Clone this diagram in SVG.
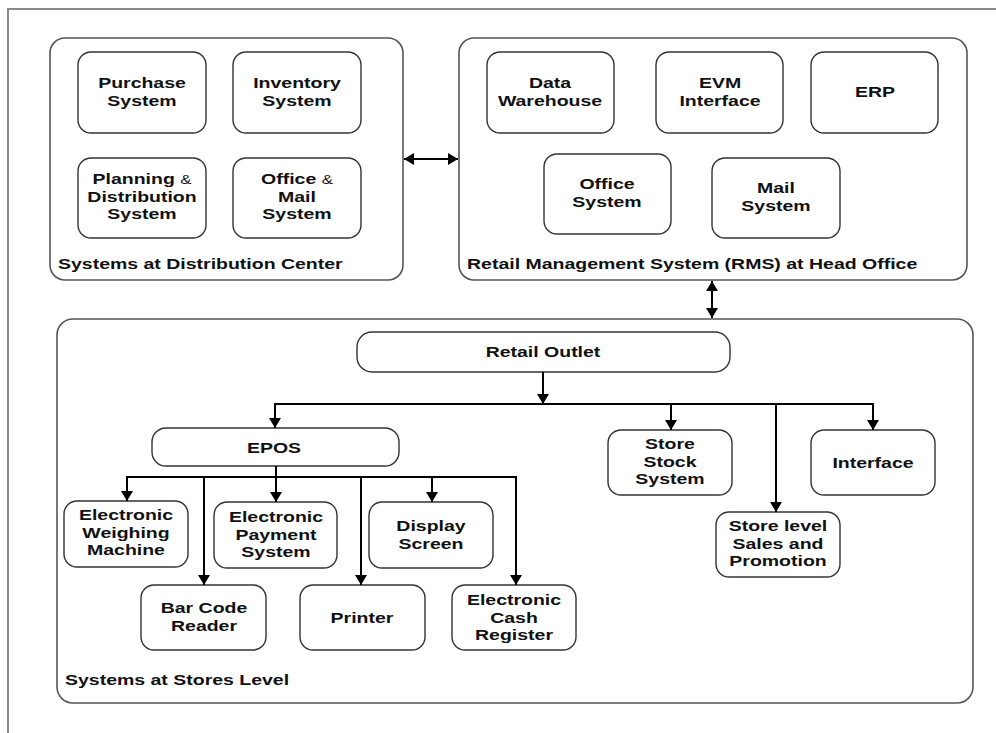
<svg xmlns="http://www.w3.org/2000/svg" width="996" height="733" viewBox="0 0 996 733">
  <style>
    .frame { fill: none; stroke: #8a8a8a; stroke-width: 2; }
    .group { fill: #fff; stroke: #555; stroke-width: 1.6; }
    .box { fill: #fff; stroke: #333; stroke-width: 1.4; }
    .wire { fill: none; stroke: #000; stroke-width: 2; }
    text { font-family: "Liberation Sans", Arial, sans-serif; font-weight: bold; font-size: 15px; fill: #111; }
    .c { text-anchor: middle; }
    .amp { font-weight: normal; font-size: 13px; }
  </style>
  <defs>
    <marker id="head" viewBox="0 0 10 12" markerUnits="userSpaceOnUse" markerWidth="10" markerHeight="12" refX="10" refY="6" orient="auto-start-reverse">
      <path d="M0,0 L10,6 L0,12 z" fill="#000"/>
    </marker>
  </defs>

  <rect width="996" height="733" fill="#fff"/>
  <!-- page frame (open on the right and bottom) -->
  <path class="frame" d="M8,733 V9 H996"/>

  <!-- distribution center -->
  <g id="distribution-center">
    <rect class="group" x="50" y="38" width="353" height="242" rx="15"/>
    <text transform="translate(58,268.5) scale(1.3,1)">Systems at Distribution Center</text>
  </g>
  <g id="purchase-system">
    <rect class="box" x="78" y="52" width="128" height="81" rx="13"/>
    <text class="c" transform="translate(142,0) scale(1.3,1)"><tspan x="0" y="88.5">Purchase</tspan><tspan x="0" y="106">System</tspan></text>
  </g>
  <g id="inventory-system">
    <rect class="box" x="233" y="52" width="128" height="81" rx="13"/>
    <text class="c" transform="translate(297,0) scale(1.3,1)"><tspan x="0" y="88.5">Inventory</tspan><tspan x="0" y="106">System</tspan></text>
  </g>
  <g id="planning-distribution">
    <rect class="box" x="78" y="158" width="128" height="80" rx="13"/>
    <text class="c" transform="translate(142,0) scale(1.3,1)"><tspan x="0" y="184.5">Planning <tspan class="amp">&amp;</tspan></tspan><tspan x="0" y="202">Distribution</tspan><tspan x="0" y="219.5">System</tspan></text>
  </g>
  <g id="office-mail-system">
    <rect class="box" x="233" y="158" width="128" height="80" rx="13"/>
    <text class="c" transform="translate(297,0) scale(1.3,1)"><tspan x="0" y="184.5">Office <tspan class="amp">&amp;</tspan></tspan><tspan x="0" y="202">Mail</tspan><tspan x="0" y="219.5">System</tspan></text>
  </g>

  <!-- head office RMS -->
  <g id="rms-head-office">
    <rect class="group" x="459" y="38" width="508" height="242" rx="15"/>
    <text transform="translate(467,268.5) scale(1.3,1)">Retail Management System (RMS) at Head Office</text>
  </g>
  <g id="data-warehouse">
    <rect class="box" x="487" y="52" width="127" height="81" rx="13"/>
    <text class="c" transform="translate(550,0) scale(1.3,1)"><tspan x="0" y="88.5">Data</tspan><tspan x="0" y="106">Warehouse</tspan></text>
  </g>
  <g id="evm-interface">
    <rect class="box" x="656" y="52" width="127" height="81" rx="13"/>
    <text class="c" transform="translate(720,0) scale(1.3,1)"><tspan x="0" y="88.5">EVM</tspan><tspan x="0" y="106">Interface</tspan></text>
  </g>
  <g id="erp">
    <rect class="box" x="811" y="52" width="127" height="81" rx="13"/>
    <text class="c" transform="translate(875,96.5) scale(1.3,1)">ERP</text>
  </g>
  <g id="office-system">
    <rect class="box" x="544" y="154" width="127" height="80" rx="13"/>
    <text class="c" transform="translate(607,0) scale(1.3,1)"><tspan x="0" y="189.5">Office</tspan><tspan x="0" y="207">System</tspan></text>
  </g>
  <g id="mail-system">
    <rect class="box" x="712" y="158" width="128" height="80" rx="13"/>
    <text class="c" transform="translate(776,0) scale(1.3,1)"><tspan x="0" y="193.5">Mail</tspan><tspan x="0" y="211">System</tspan></text>
  </g>

  <!-- stores level -->
  <g id="stores-level">
    <rect class="group" x="57" y="319" width="916" height="384" rx="16"/>
    <text transform="translate(65,684.5) scale(1.3,1)">Systems at Stores Level</text>
  </g>
  <g id="retail-outlet">
    <rect class="box" x="357" y="332" width="373" height="40" rx="15"/>
    <text class="c" transform="translate(543,356.5) scale(1.3,1)">Retail Outlet</text>
  </g>
  <g id="epos">
    <rect class="box" x="152" y="428" width="247" height="38" rx="14"/>
    <text class="c" transform="translate(274,452.5) scale(1.3,1)">EPOS</text>
  </g>
  <g id="store-stock-system">
    <rect class="box" x="608" y="430" width="124" height="65" rx="13"/>
    <text class="c" transform="translate(670,0) scale(1.3,1)"><tspan x="0" y="449.5">Store</tspan><tspan x="0" y="467">Stock</tspan><tspan x="0" y="484.5">System</tspan></text>
  </g>
  <g id="store-sales-promotion">
    <rect class="box" x="716" y="512" width="124" height="65" rx="13"/>
    <text class="c" transform="translate(778,0) scale(1.3,1)"><tspan x="0" y="531.5">Store level</tspan><tspan x="0" y="549">Sales and</tspan><tspan x="0" y="566.5">Promotion</tspan></text>
  </g>
  <g id="store-interface">
    <rect class="box" x="811" y="430" width="124" height="65" rx="13"/>
    <text class="c" transform="translate(873,467.5) scale(1.3,1)">Interface</text>
  </g>
  <g id="weighing-machine">
    <rect class="box" x="64" y="501" width="124" height="66" rx="13"/>
    <text class="c" transform="translate(126,0) scale(1.3,1)"><tspan x="0" y="520.5">Electronic</tspan><tspan x="0" y="538">Weighing</tspan><tspan x="0" y="555.5">Machine</tspan></text>
  </g>
  <g id="payment-system">
    <rect class="box" x="214" y="502" width="123" height="66" rx="13"/>
    <text class="c" transform="translate(276,0) scale(1.3,1)"><tspan x="0" y="522.5">Electronic</tspan><tspan x="0" y="540">Payment</tspan><tspan x="0" y="557.5">System</tspan></text>
  </g>
  <g id="display-screen">
    <rect class="box" x="369" y="502" width="124" height="66" rx="13"/>
    <text class="c" transform="translate(431,0) scale(1.3,1)"><tspan x="0" y="531.5">Display</tspan><tspan x="0" y="549">Screen</tspan></text>
  </g>
  <g id="bar-code-reader">
    <rect class="box" x="141" y="585" width="125" height="65" rx="13"/>
    <text class="c" transform="translate(204,0) scale(1.3,1)"><tspan x="0" y="613.5">Bar Code</tspan><tspan x="0" y="631">Reader</tspan></text>
  </g>
  <g id="printer">
    <rect class="box" x="300" y="585" width="125" height="65" rx="13"/>
    <text class="c" transform="translate(362,622.5) scale(1.3,1)">Printer</text>
  </g>
  <g id="cash-register">
    <rect class="box" x="452" y="585" width="124" height="65" rx="13"/>
    <text class="c" transform="translate(514,0) scale(1.3,1)"><tspan x="0" y="605.5">Electronic</tspan><tspan x="0" y="623">Cash</tspan><tspan x="0" y="640.5">Register</tspan></text>
  </g>

  <!-- connectors -->
  <g id="connectors" class="wire">
    <line x1="404" y1="159" x2="458" y2="159" marker-start="url(#head)" marker-end="url(#head)"/>
    <line x1="712" y1="281" x2="712" y2="318" marker-start="url(#head)" marker-end="url(#head)"/>
    <line x1="543" y1="372" x2="543" y2="404" marker-end="url(#head)"/>
    <line x1="275" y1="404" x2="873" y2="404"/>
    <line x1="275" y1="403" x2="275" y2="428" marker-end="url(#head)"/>
    <line x1="671" y1="404" x2="671" y2="430" marker-end="url(#head)"/>
    <line x1="776" y1="404" x2="776" y2="512" marker-end="url(#head)"/>
    <line x1="873" y1="403" x2="873" y2="430" marker-end="url(#head)"/>
    <line x1="127" y1="477" x2="516" y2="477"/>
    <line x1="276" y1="466" x2="276" y2="502" marker-end="url(#head)"/>
    <line x1="127" y1="476" x2="127" y2="501" marker-end="url(#head)"/>
    <line x1="204" y1="477" x2="204" y2="585" marker-end="url(#head)"/>
    <line x1="361" y1="477" x2="361" y2="585" marker-end="url(#head)"/>
    <line x1="432" y1="477" x2="432" y2="502" marker-end="url(#head)"/>
    <line x1="516" y1="476" x2="516" y2="585" marker-end="url(#head)"/>
  </g>
</svg>
